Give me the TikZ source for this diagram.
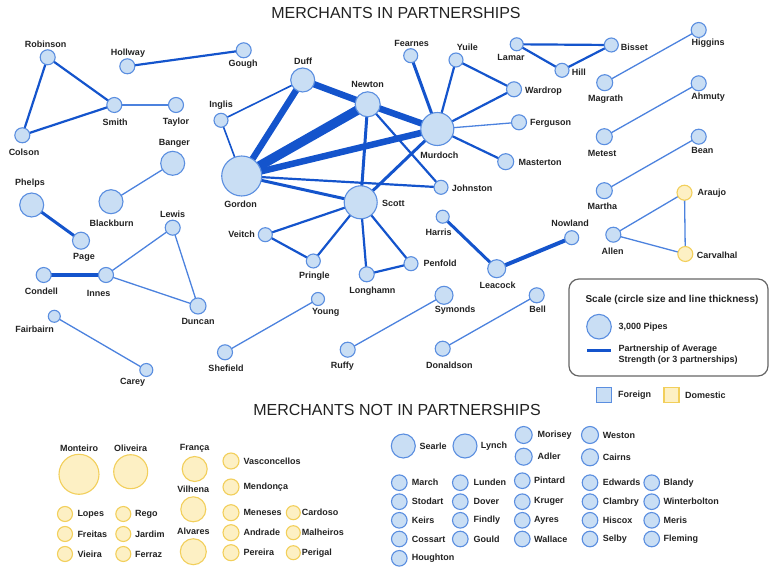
\documentclass[tikz,border=0pt]{standalone}
\usepackage{fontspec}
\setmainfont{Liberation Sans}
\usetikzlibrary{backgrounds}
\definecolor{ffill}{HTML}{C9DEF4}
\definecolor{fstroke}{HTML}{5A8EE0}
\definecolor{dfill}{HTML}{FDF0C4}
\definecolor{dstroke}{HTML}{F2CF5B}
\definecolor{edark}{HTML}{1454CC}
\definecolor{elight}{HTML}{4C82DE}
\definecolor{txt}{HTML}{222222}
\newcommand{\mfn}[4]{\node[fnode, minimum size=#4*2pt] (#1) at (#2,#3) {};}
\newcommand{\mdn}[4]{\node[dnode, minimum size=#4*2pt] (#1) at (#2,#3) {};}
\begin{document}
\begin{tikzpicture}[x=1pt,y=-1pt,
  fnode/.style={circle, draw=fstroke, fill=ffill, line width=1.1pt, inner sep=0pt},
  dnode/.style={circle, draw=dstroke, fill=dfill, line width=1.1pt, inner sep=0pt},
  lbl/.style={font=\fontsize{9}{10}\selectfont\bfseries, text=txt, inner sep=0pt},
  ttl/.style={font=\fontsize{16}{18}\selectfont, text=txt, inner sep=0pt},
  el/.style={draw=elight, line width=1.3pt},
  ea/.style={draw=edark, line width=1.6pt},
  eb/.style={draw=edark, line width=2.2pt},
  ec/.style={draw=edark, line width=3pt},
  ed/.style={draw=edark, line width=4pt},
  ee/.style={draw=edark, line width=6.5pt},
  ef/.style={draw=edark, line width=9.5pt}]
\path[use as bounding box] (0,0) rectangle (771,569);

\node[ttl] (t1) at (396,13) {MERCHANTS IN PARTNERSHIPS};
\node[ttl] (t2) at (397,410) {MERCHANTS NOT IN PARTNERSHIPS};

% ---- partnership nodes ----
\mfn{robinson}{47.7}{57.3}{7.5}
\mfn{hollway}{127.3}{66.3}{7.5}
\mfn{gough}{243.7}{50.3}{7.5}
\mfn{smith}{114.3}{105}{7.5}
\mfn{taylor}{176}{105}{7.5}
\mfn{colson}{22.3}{135.3}{7.5}
\mfn{inglis}{221}{120.3}{7}
\mfn{banger}{172.7}{163.3}{12}
\mfn{blackburn}{111}{201.7}{12}
\mfn{phelps}{31.7}{205}{12}
\mfn{page}{81}{240.7}{8.5}
\mfn{lewis}{172.7}{227.7}{7.5}
\mfn{condell}{43.7}{275}{7.5}
\mfn{innes}{106}{275}{7.5}
\mfn{duncan}{198}{306}{8}
\mfn{fairbairn}{54.3}{316.3}{6}
\mfn{carey}{146.3}{370}{6.5}
\mfn{gordon}{241.7}{176}{20}
\mfn{duff}{302.7}{80}{12}
\mfn{newton}{367.7}{104.3}{12.5}
\mfn{murdoch}{437.3}{129}{16.5}
\mfn{scott}{360.7}{202.3}{16.5}
\mfn{fearnes}{410.7}{55.7}{7}
\mfn{yuile}{456}{60}{7}
\mfn{wardrop}{514}{89.3}{7.5}
\mfn{ferguson}{519}{122.3}{7.5}
\mfn{masterton}{505.7}{161.7}{8}
\mfn{johnston}{441}{187.3}{7}
\mfn{lamar}{516.7}{44.3}{6.5}
\mfn{hill}{562}{70.3}{7}
\mfn{bisset}{611.3}{45}{7}
\mfn{magrath}{604.7}{82.7}{8}
\mfn{higgins}{698.7}{30}{7.5}
\mfn{metest}{604.3}{136.7}{8}
\mfn{ahmuty}{698.7}{83.3}{7.5}
\mfn{bean}{698.7}{136.7}{7.5}
\mfn{martha}{604.3}{190.7}{8}
\mdn{araujo}{684.5}{192.7}{7.5}
\mfn{allen}{613.3}{234.7}{7.5}
\mdn{carvalhal}{685.3}{254}{7.5}
\mfn{nowland}{571.7}{237.7}{7}
\mfn{leacock}{496.7}{268.7}{9}
\mfn{harris}{442.7}{216.7}{6.5}
\mfn{penfold}{411}{263.7}{7}
\mfn{symonds}{444}{295.3}{9}
\mfn{bell}{536.7}{295.3}{7.5}
\mfn{donaldson}{442.7}{348.7}{7.5}
\mfn{ruffy}{347.7}{349.7}{7.5}
\mfn{young}{318}{299}{6.5}
\mfn{shefield}{225}{352.3}{7.5}
\mfn{longhamn}{366.7}{274.3}{7.5}
\mfn{pringle}{313.3}{261}{7}
\mfn{veitch}{265.3}{234.7}{7}

% ---- partnership labels ----
\node[lbl] (robinson-l) at (45.7,44) {Robinson};
\node[lbl] (hollway-l) at (128,52.7) {Hollway};
\node[lbl] (gough-l) at (243,64.5) {Gough};
\node[lbl] (smith-l) at (115,122.5) {Smith};
\node[lbl] (taylor-l) at (176,122) {Taylor};
\node[lbl] (colson-l) at (24,152) {Colson};
\node[lbl] (inglis-l) at (221,105) {Inglis};
\node[lbl] (banger-l) at (174.3,143.7) {Banger};
\node[lbl] (blackburn-l) at (111.7,223.3) {Blackburn};
\node[lbl] (phelps-l) at (30,183.3) {Phelps};
\node[lbl] (page-l) at (84,257) {Page};
\node[lbl] (lewis-l) at (172.7,214) {Lewis};
\node[lbl] (condell-l) at (41.3,291.3) {Condell};
\node[lbl] (innes-l) at (98.7,293.7) {Innes};
\node[lbl] (duncan-l) at (198,321.7) {Duncan};
\node[lbl] (fairbairn-l) at (34.7,329.3) {Fairbairn};
\node[lbl] (carey-l) at (132.7,382.3) {Carey};
\node[lbl] (gordon-l) at (240.7,204.5) {Gordon};
\node[lbl] (duff-l) at (303,61.7) {Duff};
\node[lbl] (newton-l) at (367.7,84) {Newton};
\node[lbl] (murdoch-l) at (439.3,155.7) {Murdoch};
\node[lbl, anchor=west] (scott-l) at (382,203.3) {Scott};
\node[lbl] (fearnes-l) at (411.7,43.7) {Fearnes};
\node[lbl] (yuile-l) at (467.3,47.7) {Yuile};
\node[lbl, anchor=west] (wardrop-l) at (525,90.7) {Wardrop};
\node[lbl, anchor=west] (ferguson-l) at (530,123) {Ferguson};
\node[lbl, anchor=west] (masterton-l) at (518.3,162.7) {Masterton};
\node[lbl, anchor=west] (johnston-l) at (451.7,188.3) {Johnston};
\node[lbl] (lamar-l) at (511,57.7) {Lamar};
\node[lbl, anchor=west] (hill-l) at (571.7,72.3) {Hill};
\node[lbl, anchor=west] (bisset-l) at (620.7,47) {Bisset};
\node[lbl] (magrath-l) at (605.7,99) {Magrath};
\node[lbl] (higgins-l) at (708,43.3) {Higgins};
\node[lbl] (metest-l) at (602,153.3) {Metest};
\node[lbl] (ahmuty-l) at (708,97.3) {Ahmuty};
\node[lbl] (bean-l) at (702.3,150.7) {Bean};
\node[lbl] (martha-l) at (602.3,206) {Martha};
\node[lbl, anchor=west] (araujo-l) at (697.3,193) {Araujo};
\node[lbl] (allen-l) at (612.7,251) {Allen};
\node[lbl, anchor=west] (carvalhal-l) at (696.7,255) {Carvalhal};
\node[lbl] (nowland-l) at (570,223.3) {Nowland};
\node[lbl] (leacock-l) at (497.7,285.3) {Leacock};
\node[lbl] (harris-l) at (438.7,232.3) {Harris};
\node[lbl, anchor=west] (penfold-l) at (423.3,263.7) {Penfold};
\node[lbl] (symonds-l) at (455,309.7) {Symonds};
\node[lbl] (bell-l) at (537.7,309.3) {Bell};
\node[lbl] (donaldson-l) at (449.3,365.3) {Donaldson};
\node[lbl] (ruffy-l) at (342.3,365.7) {Ruffy};
\node[lbl] (young-l) at (325.7,312.7) {Young};
\node[lbl] (shefield-l) at (226,368.3) {Shefield};
\node[lbl] (longhamn-l) at (372.3,291) {Longhamn};
\node[lbl] (pringle-l) at (314.3,276.3) {Pringle};
\node[lbl, anchor=east] (veitch-l) at (255,234.5) {Veitch};

% ---- edges ----
\begin{pgfonlayer}{background}
\draw[el] (smith.center) -- (taylor.center);
\draw[el] (banger.center) -- (blackburn.center);
\draw[el] (magrath.center) -- (higgins.center);
\draw[el] (metest.center) -- (ahmuty.center);
\draw[el] (martha.center) -- (bean.center);
\draw[el] (allen.center) -- (araujo.center);
\draw[el] (allen.center) -- (carvalhal.center);
\draw[el] (araujo.center) -- (carvalhal.center);
\draw[el] (innes.center) -- (lewis.center);
\draw[el] (innes.center) -- (duncan.center);
\draw[el] (lewis.center) -- (duncan.center);
\draw[el] (fairbairn.center) -- (carey.center);
\draw[el] (young.center) -- (shefield.center);
\draw[el] (symonds.center) -- (ruffy.center);
\draw[el] (bell.center) -- (donaldson.center);
\draw[el] (murdoch.center) -- (ferguson.center);
\draw[ea] (inglis.center) -- (duff.center);
\draw[ea] (inglis.center) -- (gordon.center);
\draw[eb] (robinson.center) -- (smith.center);
\draw[eb] (robinson.center) -- (colson.center);
\draw[eb] (colson.center) -- (smith.center);
\draw[eb] (hollway.center) -- (gough.center);
\draw[eb] (gordon.center) -- (johnston.center);
\draw[eb] (newton.center) -- (johnston.center);
\draw[eb] (murdoch.center) -- (yuile.center);
\draw[eb] (murdoch.center) -- (wardrop.center);
\draw[eb] (yuile.center) -- (wardrop.center);
\draw[eb] (murdoch.center) -- (masterton.center);
\draw[eb] (lamar.center) -- (bisset.center);
\draw[eb] (lamar.center) -- (hill.center);
\draw[eb] (hill.center) -- (bisset.center);
\draw[eb] (scott.center) -- (veitch.center);
\draw[eb] (scott.center) -- (pringle.center);
\draw[eb] (veitch.center) -- (pringle.center);
\draw[eb] (scott.center) -- (longhamn.center);
\draw[eb] (scott.center) -- (penfold.center);
\draw[eb] (longhamn.center) -- (penfold.center);
\draw[ec] (gordon.center) -- (scott.center);
\draw[ec] (newton.center) -- (scott.center);
\draw[ec] (murdoch.center) -- (scott.center);
\draw[ec] (fearnes.center) -- (murdoch.center);
\draw[ec] (harris.center) -- (leacock.center);
\draw[ec] (phelps.center) -- (page.center);
\draw[ed] (condell.center) -- (innes.center);
\draw[ed] (leacock.center) -- (nowland.center);
\draw[ee] (gordon.center) -- (duff.center);
\draw[ee] (duff.center) -- (newton.center);
\draw[ee] (newton.center) -- (murdoch.center);
\draw[ee] (gordon.center) -- (murdoch.center);
\draw[ef] (gordon.center) -- (newton.center);
\end{pgfonlayer}

% ---- legend ----
\node[draw=black!60, line width=1.2pt, rounded corners=10pt, minimum width=199pt, minimum height=97pt, inner sep=0pt] (legbox) at (668.5,327.5) {};
\node[lbl, font=\fontsize{10}{12}\selectfont\bfseries] (legtitle) at (672,300) {Scale (circle size and line thickness)};
\mfn{legcirc}{599}{326.7}{12.3}
\node[lbl, anchor=west] (legcirc-l) at (618.3,326.7) {3,000 Pipes};
\coordinate (legl1) at (587,350);
\coordinate (legl2) at (611,350);
\draw[ec] (legl1) -- (legl2);
\node[lbl, anchor=west, align=left, font=\fontsize{9}{11.2}\selectfont\bfseries] (legline-l) at (618.3,355) {Partnership of Average\\Strength (or 3 partnerships)};
\node[draw=fstroke, fill=ffill, line width=1.1pt, minimum size=15pt, inner sep=0pt] (sqf) at (604,395) {};
\node[lbl, anchor=west] (sqf-l) at (618,395) {Foreign};
\node[draw=dstroke, fill=dfill, line width=1.1pt, minimum size=15pt, inner sep=0pt] (sqd) at (671.5,395) {};
\node[lbl, anchor=west] (sqd-l) at (685,395) {Domestic};

% ---- not in partnerships: domestic ----
\mdn{monteiro}{79}{474.3}{20}
\node[lbl] (monteiro-l) at (79,448.3) {Monteiro};
\mdn{oliveira}{130.7}{471.7}{17}
\node[lbl] (oliveira-l) at (130.7,448.3) {Oliveira};
\mdn{franca}{194.7}{469}{12.5}
\node[lbl] (franca-l) at (194.7,448.3) {França};
\mdn{vilhena}{193.3}{509.3}{12.5}
\node[lbl] (vilhena-l) at (193.3,489.7) {Vilhena};
\mdn{alvares}{193.3}{551.7}{13}
\node[lbl] (alvares-l) at (193.3,531) {Alvares};
\mdn{vasconcellos}{231}{461}{8}
\node[lbl, anchor=west] (vasconcellos-l) at (243.3,461) {Vasconcellos};
\mdn{mendonca}{231}{487}{8}
\node[lbl, anchor=west] (mendonca-l) at (243.3,487) {Mendonça};
\mdn{meneses}{231}{512.7}{8}
\node[lbl, anchor=west] (meneses-l) at (243.3,512.7) {Meneses};
\mdn{andrade}{231}{532.7}{8}
\node[lbl, anchor=west] (andrade-l) at (243.3,532.7) {Andrade};
\mdn{pereira}{231}{552.7}{8}
\node[lbl, anchor=west] (pereira-l) at (243.3,552.7) {Pereira};
\mdn{cardoso}{293.3}{512.7}{7}
\node[lbl, anchor=west] (cardoso-l) at (301.7,512.7) {Cardoso};
\mdn{malheiros}{293.3}{532.7}{7}
\node[lbl, anchor=west] (malheiros-l) at (301.7,532.7) {Malheiros};
\mdn{perigal}{293.3}{552.7}{7}
\node[lbl, anchor=west] (perigal-l) at (301.7,552.7) {Perigal};
\mdn{lopes}{65}{514}{7.5}
\node[lbl, anchor=west] (lopes-l) at (77.3,514) {Lopes};
\mdn{freitas}{65}{534}{7.5}
\node[lbl, anchor=west] (freitas-l) at (77.3,534) {Freitas};
\mdn{vieira}{65}{554}{7.5}
\node[lbl, anchor=west] (vieira-l) at (77.3,554) {Vieira};
\mdn{rego}{123.3}{514}{7.5}
\node[lbl, anchor=west] (rego-l) at (135,514) {Rego};
\mdn{jardim}{123.3}{534}{7.5}
\node[lbl, anchor=west] (jardim-l) at (135,534) {Jardim};
\mdn{ferraz}{123.3}{554}{7.5}
\node[lbl, anchor=west] (ferraz-l) at (135,554) {Ferraz};

% ---- not in partnerships: foreign ----
\mfn{searle}{403.3}{446}{12}
\node[lbl, anchor=west] (searle-l) at (419.3,446) {Searle};
\mfn{lynch}{465}{446}{12}
\node[lbl, anchor=west] (lynch-l) at (480.7,446) {Lynch};
\mfn{morisey}{523.7}{435}{8.5}
\node[lbl, anchor=west] (morisey-l) at (537.3,435) {Morisey};
\mfn{adler}{523.7}{456.7}{8.5}
\node[lbl, anchor=west] (adler-l) at (537.3,456.7) {Adler};
\mfn{weston}{590}{435}{8.5}
\node[lbl, anchor=west] (weston-l) at (602.7,435) {Weston};
\mfn{cairns}{590}{457.3}{8.5}
\node[lbl, anchor=west] (cairns-l) at (602.7,457.3) {Cairns};

\mfn{march}{399.3}{482.7}{7.8}
\node[lbl, anchor=west] (march-l) at (411.7,482.7) {March};
\mfn{stodart}{399.3}{501.7}{7.8}
\node[lbl, anchor=west] (stodart-l) at (411.7,501.7) {Stodart};
\mfn{keirs}{399.3}{520.3}{7.8}
\node[lbl, anchor=west] (keirs-l) at (411.7,520.3) {Keirs};
\mfn{cossart}{399.3}{539}{7.8}
\node[lbl, anchor=west] (cossart-l) at (411.7,539) {Cossart};
\mfn{houghton}{399.3}{558.3}{7.8}
\node[lbl, anchor=west] (houghton-l) at (411.7,558.3) {Houghton};

\mfn{lunden}{460.3}{482.7}{7.8}
\node[lbl, anchor=west] (lunden-l) at (473.3,482.7) {Lunden};
\mfn{dover}{460.3}{501.7}{7.8}
\node[lbl, anchor=west] (dover-l) at (473.3,501.7) {Dover};
\mfn{findly}{460.3}{520.3}{7.8}
\node[lbl, anchor=west] (findly-l) at (473.3,520.3) {Findly};
\mfn{gould}{460.3}{539}{7.8}
\node[lbl, anchor=west] (gould-l) at (473.3,539) {Gould};

\mfn{pintard}{522.3}{480.7}{7.8}
\node[lbl, anchor=west] (pintard-l) at (534,480.7) {Pintard};
\mfn{kruger}{522.3}{501.7}{7.8}
\node[lbl, anchor=west] (kruger-l) at (534,501.7) {Kruger};
\mfn{ayres}{522.3}{520.3}{7.8}
\node[lbl, anchor=west] (ayres-l) at (534,520.3) {Ayres};
\mfn{wallace}{522.3}{539}{7.8}
\node[lbl, anchor=west] (wallace-l) at (534,539) {Wallace};

\mfn{edwards}{590}{482.7}{7.8}
\node[lbl, anchor=west] (edwards-l) at (602.7,482.7) {Edwards};
\mfn{clambry}{590}{501.7}{7.8}
\node[lbl, anchor=west] (clambry-l) at (602.7,501.7) {Clambry};
\mfn{hiscox}{590}{520.3}{7.8}
\node[lbl, anchor=west] (hiscox-l) at (602.7,520.3) {Hiscox};
\mfn{selby}{590}{539}{7.8}
\node[lbl, anchor=west] (selby-l) at (602.7,539) {Selby};

\mfn{blandy}{651.7}{482.7}{7.8}
\node[lbl, anchor=west] (blandy-l) at (663.3,482.7) {Blandy};
\mfn{winterbolton}{651.7}{501.7}{7.8}
\node[lbl, anchor=west] (winterbolton-l) at (663.3,501.7) {Winterbolton};
\mfn{meris}{651.7}{520.3}{7.8}
\node[lbl, anchor=west] (meris-l) at (663.3,520.3) {Meris};
\mfn{fleming}{651.7}{539}{7.8}
\node[lbl, anchor=west] (fleming-l) at (663.3,539) {Fleming};
\end{tikzpicture}
\end{document}
